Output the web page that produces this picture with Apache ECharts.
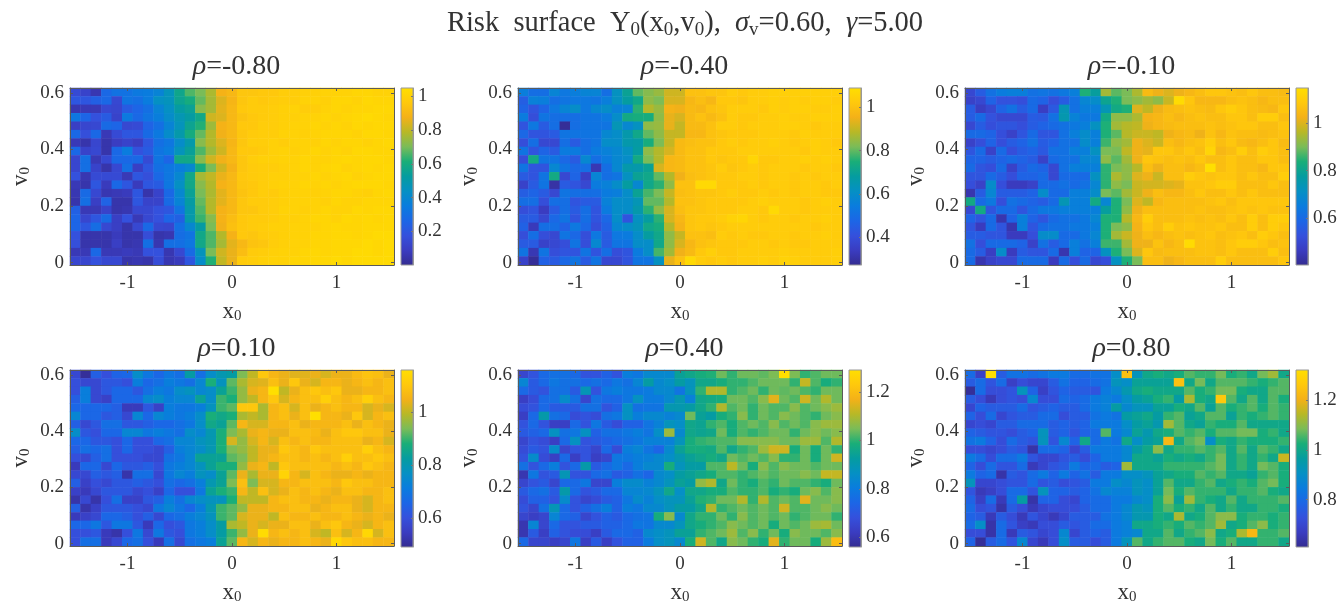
<!DOCTYPE html>
<html><head><meta charset="utf-8">
<style>html,body{margin:0;padding:0;background:#fff}#c{width:1344px;height:606px}</style>
<script src="https://cdn.jsdelivr.net/npm/echarts@6/dist/echarts.min.js"></script>
</head><body><div id="c"></div>
<script>
// Values are hundredths of Y0; rows run from v0=0.6 (first) down to v0=0 (last), columns x0=-1.5..1.5
const rhoLabels = ['-0.80','-0.40','-0.10','0.10','0.40','0.80'];
const xCategories = ['-1.5','-1.4','-1.3','-1.2','-1.1','-1','-0.9','-0.8','-0.7','-0.6','-0.5','-0.4','-0.3','-0.2','-0.1','0','0.1','0.2','0.3','0.4','0.5','0.6','0.7','0.8','0.9','1','1.1','1.2','1.3','1.4','1.5'];
const yCategories = ['0','0.03','0.06','0.09','0.12','0.15','0.18','0.21','0.24','0.27','0.3','0.33','0.36','0.39','0.42','0.45','0.48','0.51','0.54','0.57','0.6'];
const xTicks = [-1,0,1];
const yTicks = [0,0.2,0.4,0.6];
const colorRanges = [[0.0,1.05],[0.27,1.09],[0.40,1.15],[0.49,1.16],[0.56,1.29],[0.61,1.32]];
const colorTicks = [[0.2,0.4,0.6,0.8,1],[0.4,0.6,0.8,1],[0.6,0.8,1],[0.6,0.8,1],[0.6,0.8,1,1.2],[0.8,1,1.2]];
const palette = ['#342C90','#3A3CC0','#3550DC','#1C66E6','#0A7CDE','#0590C4','#059CA0','#19AE78','#7ABC58','#B8B826','#F4B118','#FFC90C','#FFDF00'];

const panelA = [
[15,12,6,27,31,31,34,35,38,46,57,66,70,77,88,90,95,95,96,96,98,98,99,99,100,100,100,101,101,100,100],
[20,20,24,27,14,32,30,35,44,46,56,60,68,76,84,89,95,97,96,97,98,98,100,100,99,101,101,100,102,101,101],
[6,7,7,14,13,22,26,30,38,44,52,55,72,76,85,90,96,97,97,98,99,100,98,98,100,101,100,101,101,102,102],
[33,26,18,22,12,34,27,32,36,42,48,52,58,82,84,90,94,96,97,98,99,99,100,100,101,100,101,102,103,102,101],
[10,13,14,28,26,14,15,25,30,38,46,56,62,75,88,90,96,96,98,98,99,100,100,101,100,101,100,102,101,102,102],
[27,17,27,7,15,20,20,28,34,42,50,60,68,78,87,90,95,97,98,98,100,100,99,100,101,101,101,100,102,102,101],
[7,5,13,5,9,12,9,20,30,33,42,50,72,78,84,89,95,98,98,99,98,100,100,99,101,100,101,101,100,101,102],
[27,12,14,5,27,35,18,22,32,35,46,54,66,75,82,90,96,96,97,99,100,99,100,101,100,101,100,102,102,101,101],
[13,30,7,14,27,27,27,15,32,26,58,58,72,82,87,90,95,98,99,99,100,100,101,100,100,101,102,101,102,102,101],
[13,30,12,5,14,30,10,20,30,33,36,40,60,70,82,88,95,97,98,98,99,100,101,100,101,102,100,101,102,101,102],
[18,6,15,15,15,7,20,17,27,33,40,58,76,80,86,90,96,97,98,99,99,100,100,101,100,101,102,100,101,102,102],
[7,5,20,8,27,20,8,20,22,33,44,58,72,78,88,90,95,96,98,99,100,100,101,100,101,100,101,102,102,102,101],
[6,28,14,6,7,8,20,5,12,27,40,55,70,77,85,90,94,96,98,97,99,100,100,99,100,101,101,100,99,101,102],
[5,30,10,25,5,5,20,12,12,28,38,52,68,78,85,90,95,97,97,98,99,100,100,100,99,101,100,100,101,101,101],
[24,7,7,12,5,6,14,14,18,20,32,50,66,78,88,90,95,95,97,98,100,100,99,100,101,100,100,102,101,102,102],
[26,13,20,28,10,18,7,14,18,26,24,50,64,72,88,92,96,97,97,98,99,99,100,101,101,100,102,101,102,101,102],
[26,20,29,14,10,5,14,27,14,13,30,40,52,70,87,93,96,97,98,99,99,100,100,100,101,102,101,101,102,102,102],
[18,5,5,5,8,5,5,16,5,6,29,32,58,66,78,88,96,95,97,98,99,100,100,101,101,102,102,101,102,103,103],
[17,5,5,5,10,5,6,30,6,30,30,33,58,66,76,85,90,94,95,98,99,100,100,101,101,102,102,102,103,102,103],
[7,7,27,7,7,8,7,18,18,6,14,28,46,70,82,86,92,97,98,99,100,100,101,102,101,102,102,103,103,102,103],
[13,13,18,14,14,5,6,5,16,6,8,20,42,62,80,86,97,98,99,100,100,101,101,102,102,103,102,103,103,103,103]
];
const panelB = [
[55,50,50,57,53,55,57,57,50,62,70,80,83,85,91,91,100,100,101,101,103,102,103,103,104,104,104,104,104,104,104],
[45,56,55,50,52,53,53,52,55,62,68,72,84,82,92,92,97,99,97,102,102,101,103,103,104,103,104,103,104,104,103],
[47,42,47,53,57,60,53,58,60,56,57,76,88,85,96,95,98,97,100,101,103,103,103,102,104,103,104,104,103,103,104],
[54,40,52,50,50,50,52,52,54,60,73,74,74,84,94,92,98,100,98,100,103,102,102,103,103,104,103,103,104,104,104],
[42,53,44,50,28,50,52,52,52,64,58,62,84,85,94,90,98,98,100,103,103,102,103,103,103,104,104,103,102,103,103],
[48,42,42,44,52,52,52,52,58,60,66,72,80,84,90,90,97,97,100,101,102,102,102,103,103,103,102,104,103,103,103],
[40,50,38,38,50,44,50,52,60,60,66,67,74,82,90,98,99,100,100,102,103,102,103,103,104,103,102,103,104,103,102],
[52,42,47,44,54,54,50,54,56,58,62,68,84,88,92,98,100,100,102,102,102,103,103,103,103,103,103,102,104,103,103],
[40,73,52,52,48,44,58,50,54,58,60,73,82,88,97,98,100,100,102,101,102,102,106,102,102,103,103,104,103,104,103],
[52,42,42,58,52,48,50,32,50,58,66,66,70,92,97,98,100,100,101,103,101,102,103,102,103,103,103,102,103,103,102],
[44,42,52,73,38,47,35,57,50,52,62,70,72,80,88,95,99,100,101,102,102,103,103,102,103,103,102,103,102,103,103],
[36,44,52,30,44,42,38,54,56,60,68,58,72,76,84,100,100,107,107,102,102,102,103,102,103,103,102,103,103,102,103],
[45,47,44,38,52,50,50,50,54,55,60,70,78,82,90,99,100,101,101,102,103,102,102,103,102,103,102,103,103,102,102],
[50,50,40,50,50,42,44,44,56,60,60,64,80,80,88,100,100,101,102,102,102,102,103,104,103,103,103,102,103,104,103],
[40,42,34,44,50,44,50,42,54,60,60,66,76,84,92,99,101,101,102,102,102,103,103,102,107,103,103,102,103,103,103],
[44,44,38,48,52,42,50,42,48,60,42,62,68,76,92,97,101,102,102,103,105,106,103,102,103,103,102,103,103,104,103],
[46,33,50,50,46,53,48,40,46,58,60,63,72,74,88,96,101,102,101,102,103,103,103,103,103,103,103,103,102,103,103],
[40,50,40,38,52,48,40,53,44,53,54,60,68,72,84,90,100,100,99,103,102,103,102,102,103,103,102,103,103,104,103],
[44,44,36,38,40,52,40,58,44,52,52,60,60,72,84,92,97,100,101,102,102,102,103,103,102,103,102,102,103,103,103],
[52,32,52,40,42,42,52,42,50,40,42,54,60,78,86,95,98,102,104,102,102,103,103,103,103,104,103,103,103,103,104],
[36,28,46,44,48,52,44,52,38,38,42,52,52,62,94,100,107,103,102,103,102,103,103,104,103,105,104,103,103,103,104]
];
const panelC = [
[50,56,62,65,66,66,62,63,62,64,66,84,78,94,88,90,95,105,102,100,102,104,106,108,108,107,106,108,106,106,105],
[48,50,58,53,53,52,60,58,52,56,62,68,70,80,84,90,92,94,92,98,114,108,104,104,104,106,107,106,104,106,106],
[56,47,50,58,62,56,60,47,55,74,62,66,66,74,82,84,100,97,102,105,106,107,106,105,108,110,108,106,105,104,108],
[56,60,53,50,50,50,56,55,62,75,67,64,64,82,92,92,95,103,104,106,104,106,107,106,106,108,108,106,110,110,106],
[50,56,52,54,54,52,56,58,60,62,64,66,72,84,94,96,97,102,104,105,106,106,106,107,106,107,108,108,106,106,108],
[60,60,58,52,48,54,60,54,54,62,66,70,66,84,88,96,98,98,97,102,104,105,102,107,104,107,106,106,105,106,107],
[48,52,58,52,56,58,62,56,58,62,62,70,66,86,92,94,102,100,98,106,104,106,107,110,106,108,105,104,106,108,105],
[54,60,48,60,52,56,58,55,62,62,66,66,72,90,90,97,102,101,108,108,106,108,106,112,104,106,110,106,110,108,106],
[58,58,56,58,60,58,56,48,60,62,62,68,68,92,88,94,102,108,107,106,107,106,108,106,106,108,106,106,108,108,106],
[60,54,52,60,48,56,60,58,50,62,66,66,66,85,90,92,96,106,102,106,106,104,106,116,106,108,106,106,104,108,108],
[54,54,60,56,52,58,58,60,50,60,60,60,72,85,95,92,100,102,98,106,106,110,108,107,108,108,106,108,106,106,110],
[52,48,70,52,46,46,48,60,60,62,60,62,68,85,92,90,98,99,99,100,101,107,107,108,110,110,106,106,106,108,106],
[44,56,68,56,56,56,58,70,60,60,66,66,70,90,88,94,98,102,106,104,104,106,108,106,106,108,106,108,106,106,106],
[82,60,64,52,62,60,58,56,60,74,66,66,82,68,84,90,100,97,104,106,106,106,106,107,108,106,108,108,108,108,108],
[50,82,54,60,60,54,60,64,64,66,66,66,66,78,84,92,102,106,106,106,106,106,107,106,106,107,108,107,108,107,107],
[58,54,60,44,58,66,58,54,60,62,62,64,68,84,84,96,104,110,106,106,106,107,106,107,106,108,106,110,106,110,110],
[54,46,60,54,44,66,54,60,62,62,64,64,66,84,90,92,103,108,106,110,107,108,107,107,108,106,106,110,106,110,108],
[56,56,54,54,46,46,52,70,70,60,60,64,68,84,94,98,102,106,104,106,107,106,107,108,106,107,108,106,110,108,106],
[62,52,60,60,60,58,48,62,56,60,66,62,66,86,86,94,102,102,107,104,106,114,107,107,106,108,110,110,108,106,107],
[60,56,47,70,46,56,54,54,60,44,66,58,58,72,84,90,100,108,105,106,106,106,107,107,106,108,106,106,106,110,106],
[60,44,48,50,50,60,60,60,46,60,52,60,50,52,72,84,90,106,106,102,104,106,106,106,110,106,106,106,106,106,108]
];
const panelD = [
[58,50,64,60,65,66,76,70,66,70,68,82,68,76,80,82,94,100,110,106,104,103,103,104,102,104,104,107,109,108,104],
[60,58,58,62,62,60,72,66,68,72,70,68,74,88,78,92,98,102,103,108,104,110,104,102,106,106,104,106,108,106,108],
[60,72,58,62,66,66,62,68,72,70,76,78,74,76,84,90,96,104,106,117,100,104,108,110,108,110,104,104,106,106,108],
[64,72,58,56,66,66,66,74,76,72,74,74,84,76,90,88,96,100,106,110,102,106,108,108,112,108,106,108,112,108,106],
[66,66,66,66,64,54,54,62,56,72,70,70,72,78,90,92,110,110,98,106,108,102,108,104,106,108,106,106,102,104,102],
[74,66,66,62,64,58,74,66,74,72,70,72,76,88,86,88,98,100,98,106,108,104,108,116,106,106,104,110,102,106,108],
[64,58,62,68,68,62,62,64,66,66,68,70,76,86,84,92,106,102,102,106,106,108,104,106,106,106,108,104,108,106,104],
[76,62,60,66,66,74,74,70,72,70,68,76,74,80,88,94,98,104,106,104,104,108,108,107,104,108,110,110,108,108,104],
[66,66,62,62,60,66,60,60,66,68,74,74,78,80,88,102,96,102,106,102,108,106,108,106,106,108,108,108,104,106,102],
[64,68,66,68,60,66,60,60,58,64,72,74,76,80,88,94,96,100,104,104,110,108,106,110,108,108,108,108,112,108,106],
[60,58,64,68,60,60,60,58,58,68,70,74,84,84,84,92,94,100,104,106,108,108,106,108,106,108,112,108,108,110,108],
[54,66,66,58,66,62,62,64,60,70,72,74,78,84,88,88,96,104,106,100,110,108,108,108,108,106,108,106,110,108,106],
[58,58,64,62,64,52,68,68,58,70,74,72,78,76,84,92,104,98,104,104,113,106,102,108,106,104,104,106,104,106,106],
[64,56,60,58,62,62,64,62,60,68,66,68,72,80,84,94,108,94,102,102,106,106,108,108,108,106,110,108,108,106,106],
[56,54,58,62,62,62,58,60,56,66,60,60,70,84,88,90,106,100,108,102,104,108,106,108,106,104,108,108,106,106,108],
[52,58,52,60,68,56,56,62,64,72,68,74,76,78,78,88,100,100,100,106,108,108,106,106,104,106,106,104,102,106,108],
[64,52,56,62,62,62,60,58,70,74,70,66,72,80,90,92,96,104,104,106,106,108,108,104,106,108,108,104,102,106,106],
[54,56,58,66,66,64,60,64,58,66,68,72,74,78,90,92,102,104,104,100,108,106,106,108,106,106,108,106,104,106,104],
[66,66,70,62,70,70,62,54,66,60,62,70,72,76,82,98,100,104,102,104,104,108,108,104,108,110,106,104,102,106,108],
[60,60,62,54,52,60,70,58,70,62,60,70,72,76,82,90,96,104,115,106,108,106,108,102,100,108,102,106,114,102,108],
[60,68,68,54,58,66,68,60,54,68,58,68,70,72,84,92,106,102,106,104,106,106,108,106,104,114,110,108,108,106,106]
];
const panelE = [
[65,69,75,77,77,75,69,69,73,69,81,79,84,84,84,94,96,98,99,104,100,104,104,103,105,129,105,100,102,104,104],
[83,71,75,79,77,77,75,77,75,79,77,83,92,84,86,92,88,96,96,98,100,100,102,104,104,104,100,112,102,98,100],
[75,71,69,77,77,71,89,69,79,81,79,79,80,84,84,78,88,100,110,110,100,102,104,100,104,103,104,102,100,104,104],
[63,67,75,77,85,77,65,77,75,75,79,87,80,80,84,90,82,96,97,98,104,104,102,106,115,104,102,113,104,110,104],
[67,69,75,71,71,71,77,77,69,73,87,77,78,78,90,90,92,96,100,110,102,104,100,104,102,102,106,102,104,106,108],
[63,75,91,77,75,67,69,67,77,79,87,81,84,84,82,84,104,94,92,98,100,106,100,104,102,106,104,102,100,104,106],
[69,75,69,63,63,75,69,79,71,67,73,73,78,82,88,86,96,95,100,102,98,102,104,102,106,102,104,102,106,108,108],
[71,73,75,87,77,79,87,73,77,77,79,81,78,86,108,84,96,95,96,104,98,102,100,102,104,104,100,104,106,104,106],
[65,69,67,63,75,87,69,71,73,75,77,79,82,82,82,88,98,100,101,102,102,106,106,106,106,104,104,108,108,102,110],
[67,71,69,85,65,69,69,65,75,67,81,83,78,74,84,94,98,98,97,102,96,100,102,108,113,113,98,104,98,104,100],
[69,85,67,63,75,63,69,63,65,79,79,81,82,84,86,90,94,96,98,96,104,102,104,102,106,100,100,104,98,104,113],
[77,69,75,81,69,75,91,71,75,79,75,81,84,84,98,88,92,92,102,102,111,104,98,106,102,106,104,104,102,104,104],
[60,79,69,71,89,69,69,75,77,71,73,77,74,84,86,92,94,96,98,102,102,100,102,104,102,104,104,106,104,112,112],
[65,69,71,65,75,75,79,65,65,81,85,85,82,84,88,94,92,107,110,96,104,100,98,102,100,104,102,102,100,98,104],
[71,75,77,71,91,75,69,71,75,75,83,83,84,88,96,86,96,96,98,98,102,100,100,102,98,100,98,104,106,102,106],
[67,73,73,69,85,69,65,67,71,73,79,85,82,86,88,88,94,99,100,104,104,110,100,110,102,104,102,115,104,104,106],
[69,65,77,89,75,69,73,77,81,73,81,79,84,84,88,92,92,96,110,100,102,104,102,104,102,113,102,102,104,106,104],
[65,63,65,83,75,73,65,69,73,71,75,77,78,98,106,84,96,100,100,104,100,106,102,104,102,104,100,102,104,104,100],
[60,83,65,75,69,69,71,71,73,73,75,79,78,84,84,88,96,98,100,102,106,104,102,104,98,104,102,104,108,109,104],
[60,71,63,73,69,67,67,63,71,75,75,73,84,86,88,94,94,100,102,104,108,102,106,100,104,98,106,104,104,102,106],
[75,65,65,63,65,79,63,71,63,69,73,73,80,86,88,84,98,113,102,96,106,104,100,98,115,100,104,104,98,108,120]
];
const panelF = [
[80,68,132,76,82,82,80,82,84,84,80,80,82,82,90,124,92,100,102,100,102,106,104,104,108,102,104,100,108,112,100],
[76,80,74,80,68,72,70,70,76,82,78,78,80,82,92,90,98,98,98,98,124,100,108,100,106,106,106,104,102,104,106],
[62,80,72,72,74,92,78,68,74,78,76,76,74,84,88,94,100,102,100,100,100,106,102,104,108,108,102,100,100,106,106],
[76,72,66,72,74,72,88,72,72,80,78,80,84,86,84,90,96,98,102,104,96,113,102,100,126,106,100,106,100,106,102],
[70,78,76,76,76,80,74,76,78,76,76,80,84,86,96,88,92,92,98,98,102,100,106,98,106,102,104,106,102,106,104],
[78,72,80,70,74,76,76,80,80,72,76,76,82,84,82,96,98,100,96,104,106,98,100,106,106,98,104,102,104,106,104],
[70,72,70,76,76,80,80,80,76,78,76,78,84,84,84,90,96,98,94,112,106,100,98,104,102,102,106,100,100,100,100],
[78,76,74,74,72,76,78,92,76,78,74,78,80,106,84,88,98,94,100,102,106,104,106,102,106,106,108,108,102,104,100],
[82,84,78,72,80,76,74,92,74,88,78,100,80,84,82,100,90,96,98,122,100,106,108,90,102,100,104,102,102,102,104],
[72,72,70,72,76,74,64,80,80,78,70,76,84,84,84,88,96,100,110,100,104,104,106,104,106,100,106,100,106,104,100],
[84,80,72,80,80,84,74,70,70,74,76,72,78,84,84,88,100,100,98,102,100,102,100,104,108,100,104,100,104,100,116],
[78,72,80,74,74,80,66,70,74,76,84,78,80,76,78,112,100,100,100,104,104,104,104,106,108,100,104,100,108,106,102],
[84,78,80,64,76,74,80,84,78,84,78,82,76,84,84,90,90,92,98,100,102,102,106,104,106,100,100,98,104,106,102],
[92,70,70,72,74,74,80,74,76,72,74,76,84,84,90,88,92,90,98,106,100,100,104,106,100,102,104,102,106,108,102],
[74,66,68,72,80,80,74,92,78,78,76,78,82,88,86,86,92,90,98,108,102,106,104,104,104,100,104,104,106,102,100],
[78,68,80,66,80,96,64,78,78,72,70,78,80,80,84,84,88,90,102,110,98,112,104,102,100,106,100,104,104,104,106],
[80,72,74,64,76,72,66,70,72,72,72,76,80,80,84,88,94,92,102,106,102,104,100,106,100,104,100,100,104,104,102],
[78,76,66,76,72,66,74,70,66,70,76,76,76,82,84,88,94,94,102,100,113,100,102,106,110,110,102,104,104,102,104],
[80,90,64,80,74,68,66,72,72,76,74,76,80,80,84,86,100,100,102,104,102,106,104,106,112,100,102,106,110,102,104],
[72,72,64,80,66,76,74,70,72,88,70,76,78,76,84,86,88,100,100,106,100,104,106,110,100,102,113,122,104,104,106],
[78,62,76,80,74,88,70,66,72,90,76,76,72,76,84,92,106,100,104,106,106,102,100,108,102,106,100,100,104,104,100]
];
const panels = [panelA,panelB,panelC,panelD,panelE,panelF];

const plotLefts = [70,518,965];
const plotTops = [88,370];
const plotW = 324, plotH = 177, barGap = 7, barW = 12;
const ink = '#333333', frame = '#5a5a5a', font = 'Liberation Serif';
const sub = {fontSize:15,fontFamily:font,color:ink,padding:[10,0,0,0]};
const tickLine = {lineStyle:{color:frame,width:1},length:3,inside:true};

const grid=[],xAxis=[],yAxis=[],series=[],title=[],visualMap=[];
title.push({left:680,top:3,textAlign:'center',
  text:'Risk  surface  Y{s|0}(x{s|0},v{s|0}),  {i|σ}{s|v}=0.60,  {i|γ}=5.00',
  textStyle:{fontFamily:font,fontSize:28.5,fontWeight:'normal',color:ink,
    rich:{s:{fontSize:19,fontFamily:font,color:ink,padding:[13,0,0,0]},i:{fontSize:28.5,fontFamily:font,color:ink,fontStyle:'italic'}}}});

panels.forEach((rows,p)=>{
  const left=plotLefts[p%3], top=plotTops[Math.floor(p/3)];
  const g=grid.length;
  grid.push({left,top,width:plotW,height:plotH,containLabel:false});
  title.push({left:left+plotW/2-0.5,top:top-40,textAlign:'center',
    text:'{i|ρ}='+rhoLabels[p],
    textStyle:{fontFamily:font,fontSize:28,fontWeight:'normal',color:ink,rich:{i:{fontSize:28,fontFamily:font,color:ink,fontStyle:'italic'}}}});
  // band axes that carry the heatmap cells (hidden)
  const xc=xAxis.length; xAxis.push({type:'category',gridIndex:g,data:xCategories,show:false});
  const yc=yAxis.length; yAxis.push({type:'category',gridIndex:g,data:yCategories,show:false});
  // visible numeric axes
  xAxis.push({type:'value',gridIndex:g,position:'bottom',min:-1.55,max:1.55,z:5,splitLine:{show:false},
    axisLine:{show:true,onZero:false,lineStyle:{color:frame,width:1}},
    axisTick:{...tickLine,customValues:xTicks},
    axisLabel:{customValues:xTicks,fontFamily:font,fontSize:19,color:ink,margin:9,formatter:v=>String(v)},
    name:'x{s|0}',nameLocation:'middle',nameGap:34,
    nameTextStyle:{fontFamily:font,fontSize:23,color:ink,rich:{s:sub}}});
  xAxis.push({type:'value',gridIndex:g,position:'top',min:-1.55,max:1.55,z:5,splitLine:{show:false},
    axisLine:{show:true,onZero:false,lineStyle:{color:frame,width:1}},
    axisTick:{...tickLine,customValues:xTicks},axisLabel:{show:false}});
  yAxis.push({type:'value',gridIndex:g,position:'left',min:-0.008,max:0.617,z:5,splitLine:{show:false},
    axisLine:{show:true,onZero:false,lineStyle:{color:frame,width:1}},
    axisTick:{...tickLine,customValues:yTicks},
    axisLabel:{customValues:yTicks,fontFamily:font,fontSize:19,color:ink,margin:6,formatter:v=>String(v)},
    name:'v{s|0}',nameLocation:'middle',nameGap:37,nameRotate:90,
    nameTextStyle:{fontFamily:font,fontSize:23,color:ink,rich:{s:sub}}});
  yAxis.push({type:'value',gridIndex:g,position:'right',min:-0.008,max:0.617,z:5,splitLine:{show:false},
    axisLine:{show:true,onZero:false,lineStyle:{color:frame,width:1}},
    axisTick:{...tickLine,customValues:yTicks},axisLabel:{show:false}});
  const data=[];
  rows.forEach((row,r)=>row.forEach((v,c)=>data.push([c,rows.length-1-r,v/100])));
  const si=series.length;
  series.push({type:'heatmap',xAxisIndex:xc,yAxisIndex:yc,data,progressive:0,animation:false,itemStyle:{borderWidth:0},emphasis:{disabled:true}});
  const [lo,hi]=colorRanges[p];
  visualMap.push({show:false,seriesIndex:si,dimension:2,min:lo,max:hi,inRange:{color:palette}});
  // colour bar
  const gb=grid.length;
  grid.push({left:left+plotW+barGap,top,width:barW,height:plotH});
  const xb=xAxis.length; xAxis.push({type:'value',gridIndex:gb,min:0,max:1,show:false});
  const yb=yAxis.length;
  yAxis.push({type:'value',gridIndex:gb,position:'right',min:lo,max:hi,z:5,splitLine:{show:false},
    axisLine:{show:true,onZero:false,lineStyle:{color:'#999',width:1}},
    axisTick:{lineStyle:{color:'#777',width:1},length:2,inside:true,customValues:colorTicks[p]},
    axisLabel:{customValues:colorTicks[p],fontFamily:font,fontSize:19,color:ink,margin:5,formatter:v=>String(v)}});
  series.push({type:'custom',xAxisIndex:xb,yAxisIndex:yb,animation:false,silent:true,data:[[0,lo,1,hi]],
    encode:{x:[0,2],y:[1,3]},
    renderItem(params,api){
      const a=api.coord([api.value(0),api.value(1)]), b=api.coord([api.value(2),api.value(3)]);
      return {type:'rect',shape:{x:a[0],y:b[1],width:b[0]-a[0],height:a[1]-b[1]},
        style:{fill:new echarts.graphic.LinearGradient(0,1,0,0,palette.map((c,i)=>({offset:i/(palette.length-1),color:c}))),stroke:'#999',lineWidth:1}};
    }});
});

const chart=echarts.init(document.getElementById('c'),null,{renderer:'canvas'});
chart.setOption({animation:false,backgroundColor:'#fff',title,grid,xAxis,yAxis,series,visualMap});
</script></body></html>
